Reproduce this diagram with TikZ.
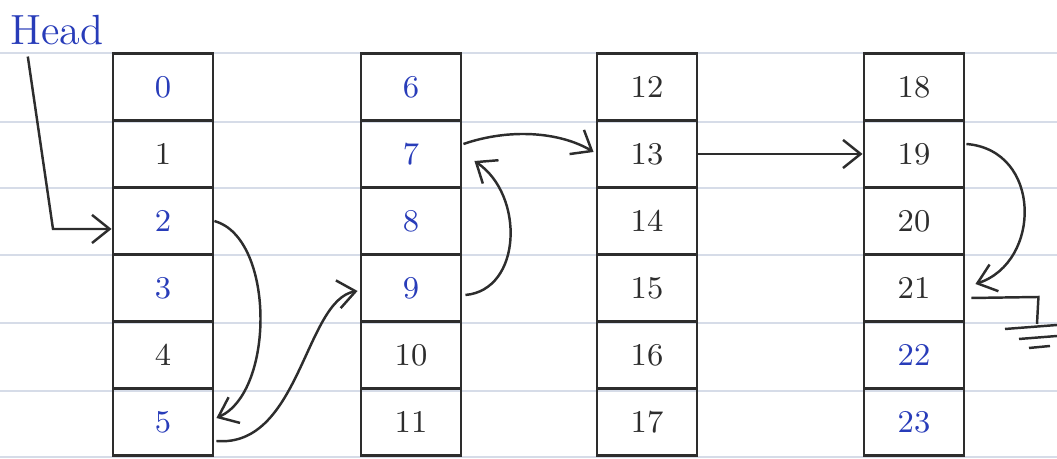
\documentclass[tikz,border=0pt]{standalone}
\usetikzlibrary{arrows.meta,calc}

\definecolor{inkblue}{RGB}{40,60,185}
\definecolor{inkdark}{RGB}{45,45,45}
\definecolor{ruling}{RGB}{214,220,232}

\tikzset{
    block/.style={draw=inkdark, line width=0.8pt, minimum width=1cm,
        minimum height=0.67cm, inner sep=0pt, font=\small},
    link/.style={draw=inkdark, line width=0.7pt,
        -{Straight Barb[length=5pt,width=8pt]}},
}

\begin{document}
\begin{tikzpicture}[x=0.01cm, y=-0.01cm]
    % Page and notebook ruling
    \useasboundingbox (0,0) rectangle (1057,459);
    \foreach \y in {53,122,188,255,323,391,457} {
        \draw[ruling, line width=0.5pt] (0,\y) -- (1057,\y);
    }

    % Disk blocks: four columns of six
    \foreach \n/\ink in {0/inkblue, 1/inkdark, 2/inkblue, 3/inkblue, 4/inkdark, 5/inkblue,
                         6/inkblue, 7/inkblue, 8/inkblue, 9/inkblue, 10/inkdark, 11/inkdark,
                         12/inkdark, 13/inkdark, 14/inkdark, 15/inkdark, 16/inkdark, 17/inkdark,
                         18/inkdark, 19/inkdark, 20/inkdark, 21/inkdark, 22/inkblue, 23/inkblue} {
        \pgfmathtruncatemacro{\c}{div(\n,6)}
        \pgfmathtruncatemacro{\r}{mod(\n,6)}
        \pgfmathsetmacro{\x}{{163,411,647,914}[\c]}
        \node[block, text=\ink] (b\n) at (\x, {87+67*\r}) {\n};
    }

    % Head pointer
    \node[text=inkblue, font=\large, inner sep=0pt] (head) at (57,30) {Head};
    \coordinate (hfoot) at (53,229);
    \draw[link] ($(head.south west)+(18,11)$) -- (hfoot) -- (hfoot -| b2.west);

    % Chain of blocks 2 -> 5 -> 9 -> 7 -> 13 -> 19 -> 21
    \draw[link] (b2.east) .. controls (275,238) and (275,392) .. ($(b5.east)+(2,-4)$);
    \draw[link] ($(b5.east)+(2,19)$) .. controls (300,448) and (305,300) .. ($(b9.west)+(-2,3)$);
    \draw[link] ($(b9.east)+(3,7)$) .. controls (522,290) and (525,195) .. ($(b7.east)+(12,7)$);
    \draw[link] ($(b7.east)+(1,-10)$) .. controls (510,128) and (560,132) .. ($(b13.west)+(-2,-2)$);
    \draw[link] (b13.east) -- (b19.west);
    \draw[link] ($(b19.east)+(1,-10)$) .. controls (1042,150) and (1042,262) .. ($(b21.east)+(10,-4)$);

    % End of chain: ground mark
    \coordinate (gnd) at (1037,324);
    \draw[inkdark, line width=0.7pt] ($(b21.east)+(6,10)$) -- ($(b21.east)+(73,9)$) -- (gnd);
    \draw[inkdark, line width=0.7pt] (1005,329) -- (1057,325);
    \draw[inkdark, line width=0.7pt] (1019,339) -- (1057,336);
    \draw[inkdark, line width=0.7pt] (1029,348) -- (1050,346);
\end{tikzpicture}
\end{document}
